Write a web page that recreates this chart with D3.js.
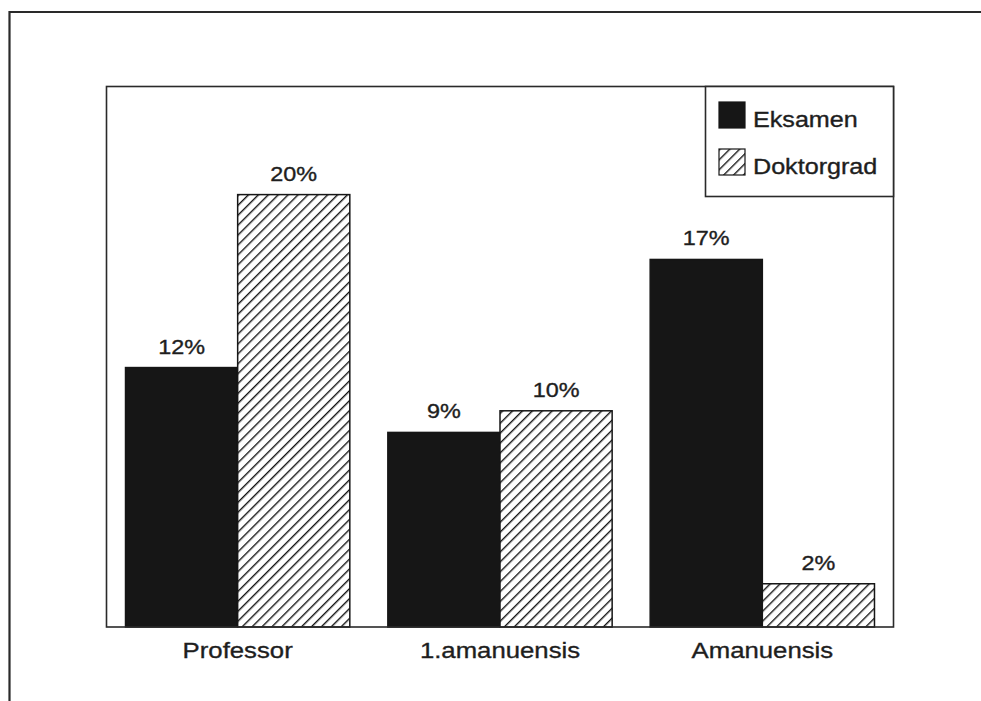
<!DOCTYPE html>
<html>
<head>
<meta charset="utf-8">
<script src="https://cdn.jsdelivr.net/npm/d3@7"></script>
<style>
  html, body { margin: 0; padding: 0; background: #fff; }
  svg { display: block; }
  text {
    font-family: "Liberation Sans", Arial, Helvetica, sans-serif;
    fill: #1e1e1e;
    stroke: #1e1e1e;
    stroke-width: 0.35px;
  }
</style>
</head>
<body>
<svg id="chart" width="981" height="701"></svg>
<script>
// Share of staff by position: exam vs. doctorate
const categories = ["Professor", "1.amanuensis", "Amanuensis"];
const seriesNames = ["Eksamen", "Doktorgrad"];
const eksamen = [12, 9, 17];
const doktorgrad = [20, 10, 2];
const yMax = 25;

const rows = categories.map((c, i) => ({
  category: c,
  values: [
    { key: seriesNames[0], value: eksamen[i] },
    { key: seriesNames[1], value: doktorgrad[i] }
  ]
}));

const svg = d3.select("#chart");
const ink = "#161616";
const stretch = 1.17; // wide sans lettering

// plot frame
const plot = { left: 106.5, right: 893.5, top: 86.5, bottom: 627 };

const x0 = d3.scaleBand()
  .domain(categories)
  .range([plot.left, plot.right])
  .paddingInner(0.145)
  .paddingOuter(0.0725);

const x1 = d3.scaleBand()
  .domain(seriesNames)
  .range([0, x0.bandwidth()])
  .padding(0);

const y = d3.scaleLinear()
  .domain([0, yMax])
  .range([plot.bottom, plot.top]);

// diagonal hatch
const defs = svg.append("defs");
const gap = 7;
const pat = defs.append("pattern")
  .attr("id", "hatch")
  .attr("patternUnits", "userSpaceOnUse")
  .attr("width", gap)
  .attr("height", gap)
  .attr("patternTransform", "rotate(45)");
pat.append("rect").attr("width", gap).attr("height", gap).attr("fill", "#fff");
pat.append("line")
  .attr("x1", 0).attr("y1", 0).attr("x2", 0).attr("y2", gap)
  .attr("stroke", ink).attr("stroke-width", 2.8);

const fillFor = key => key === seriesNames[0] ? ink : "url(#hatch)";

// outer page frame
svg.append("path")
  .attr("d", "M9.5,702 V12 H982")
  .attr("fill", "none")
  .attr("stroke", "#2a2a2a")
  .attr("stroke-width", 2.2);

// bars
const groups = svg.append("g").selectAll("g")
  .data(rows)
  .join("g")
  .attr("transform", d => `translate(${x0(d.category)},0)`);

groups.selectAll("rect")
  .data(d => d.values)
  .join("rect")
  .attr("x", d => x1(d.key))
  .attr("y", d => y(d.value))
  .attr("width", x1.bandwidth())
  .attr("height", d => y(0) - y(d.value))
  .attr("fill", d => fillFor(d.key))
  .attr("stroke", ink)
  .attr("stroke-width", 1.5);

// value labels
groups.selectAll("g.lbl")
  .data(d => d.values)
  .join("g")
  .attr("class", "lbl")
  .attr("transform", d => `translate(${x1(d.key) + x1.bandwidth() / 2},${y(d.value) - 14}) scale(${stretch},1)`)
  .append("text")
  .attr("text-anchor", "middle")
  .attr("font-size", 20)
  .text(d => d.value + "%");

// plot border
svg.append("rect")
  .attr("x", plot.left)
  .attr("y", plot.top)
  .attr("width", plot.right - plot.left)
  .attr("height", plot.bottom - plot.top)
  .attr("fill", "none")
  .attr("stroke", "#2a2a2a")
  .attr("stroke-width", 1.6);

// category axis labels
const xAxis = d3.axisBottom(x0).tickSize(0).tickPadding(0);
const axisG = svg.append("g")
  .attr("transform", `translate(0,${plot.bottom})`)
  .call(xAxis);
axisG.select(".domain").remove();
axisG.selectAll(".tick text")
  .attr("font-size", 22)
  .attr("font-family", "\"Liberation Sans\", Arial, sans-serif")
  .attr("fill", "#1e1e1e")
  .attr("dy", null)
  .attr("y", 31)
  .attr("transform", `scale(${stretch},1)`)
  .attr("x", 0);
// keep labels centred on their ticks after horizontal stretch
axisG.selectAll(".tick").each(function() {
  const t = d3.select(this);
  const tx = +t.attr("transform").match(/translate\(([^,]+)/)[1];
  t.attr("transform", `translate(${tx},0)`);
});

// legend
const legend = { x: 705.5, y: plot.top, w: plot.right - 705.5, h: 110 };
svg.append("rect")
  .attr("x", legend.x)
  .attr("y", legend.y)
  .attr("width", legend.w)
  .attr("height", legend.h)
  .attr("fill", "#fff")
  .attr("stroke", "#2a2a2a")
  .attr("stroke-width", 1.6);

const items = svg.append("g").selectAll("g")
  .data(seriesNames)
  .join("g")
  .attr("transform", (d, i) => `translate(${legend.x + 13.5},${legend.y + 15.5 + i * 47})`);

items.append("rect")
  .attr("width", 26)
  .attr("height", 26)
  .attr("fill", d => fillFor(d))
  .attr("stroke", ink)
  .attr("stroke-width", 1.2);

items.append("g")
  .attr("transform", `translate(34,25) scale(${stretch},1)`)
  .append("text")
  .attr("font-size", 21.5)
  .text(d => d);
</script>
</body>
</html>
